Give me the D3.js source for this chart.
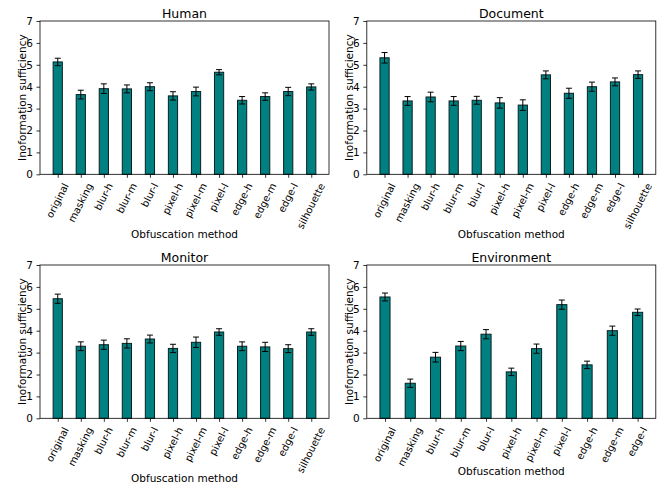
<!DOCTYPE html>
<html>
<head>
<meta charset="utf-8">
<script src="https://cdn.jsdelivr.net/npm/d3@7"></script>
<style>
  body { margin: 0; background: #fff; }
  text { font-family: "DejaVu Sans", sans-serif; fill: #000; }
</style>
</head>
<body>
<svg id="chart" width="668" height="485"></svg>
<script>
// categories
const methods12 = ["original", "masking", "blur-h", "blur-m", "blur-l", "pixel-h",
  "pixel-m", "pixel-l", "edge-h", "edge-m", "edge-l", "silhouette"];
const methods11 = methods12.slice(0, 11);

// mean scores and error half-widths
const humanMean = [5.13, 3.64, 3.91, 3.90, 4.00, 3.58, 3.78, 4.66, 3.38, 3.55, 3.78, 3.99];
const humanErr  = [0.17, 0.20, 0.22, 0.18, 0.18, 0.19, 0.20, 0.12, 0.17, 0.17, 0.19, 0.14];

const documentMean = [5.32, 3.35, 3.53, 3.35, 3.38, 3.26, 3.16, 4.54, 3.70, 4.00, 4.22, 4.55];
const documentErr  = [0.24, 0.20, 0.22, 0.20, 0.18, 0.24, 0.24, 0.18, 0.23, 0.21, 0.18, 0.17];

const monitorMean = [5.46, 3.29, 3.36, 3.42, 3.62, 3.19, 3.47, 3.94, 3.29, 3.26, 3.18, 3.94];
const monitorErr  = [0.21, 0.20, 0.21, 0.21, 0.18, 0.19, 0.24, 0.15, 0.20, 0.21, 0.18, 0.15];

const environmentMean = [5.54, 1.60, 2.79, 3.30, 3.84, 2.12, 3.18, 5.19, 2.44, 4.00, 4.84];
const environmentErr  = [0.18, 0.19, 0.22, 0.21, 0.21, 0.17, 0.21, 0.21, 0.17, 0.21, 0.15];

const yTicks = [0, 1, 2, 3, 4, 5, 6, 7];

const svg = d3.select("#chart");

// axes boxes in pixels (left, right, top, bottom)
const panels = [
  { title: "Human", cats: methods12, mean: humanMean, err: humanErr, box: [40, 329, 21, 174.3] },
  { title: "Document", cats: methods12, mean: documentMean, err: documentErr, box: [366.8, 655.8, 21, 174.3] },
  { title: "Monitor", cats: methods12, mean: monitorMean, err: monitorErr, box: [40, 329, 265, 418.3] },
  { title: "Environment", cats: methods11, mean: environmentMean, err: environmentErr, box: [366.8, 655.8, 265, 418.3] }
];

const barColor = "#008080";
const barWidth = 0.4;
const rot = 63;

panels.forEach(p => drawPanel(p));

function drawPanel(p) {
  const [l, r, t, b] = p.box;
  const n = p.cats.length;
  // matplotlib style x-limits: bar extent plus 5% margin
  const lo = -barWidth / 2, hi = n - 1 + barWidth / 2;
  const m = 0.05 * (hi - lo);
  const x = d3.scaleLinear().domain([lo - m, hi + m]).range([l, r]);
  const y = d3.scaleLinear().domain([0, 7]).range([b, t]);

  const g = svg.append("g");

  // bars
  g.selectAll("rect.bar")
    .data(p.mean)
    .enter()
    .append("rect")
    .attr("class", "bar")
    .attr("x", (d, i) => x(i - barWidth / 2))
    .attr("width", x(barWidth) - x(0))
    .attr("y", d => y(d))
    .attr("height", d => y(0) - y(d))
    .attr("fill", barColor)
    .attr("stroke", "#0a2020")
    .attr("stroke-width", 1);

  // error bars
  const cap = 3;
  const eb = g.selectAll("g.err")
    .data(p.mean)
    .enter()
    .append("g")
    .attr("class", "err")
    .attr("stroke", "#000")
    .attr("stroke-width", 1);
  eb.append("line")
    .attr("x1", (d, i) => x(i)).attr("x2", (d, i) => x(i))
    .attr("y1", (d, i) => y(d - p.err[i])).attr("y2", (d, i) => y(d + p.err[i]));
  eb.append("line")
    .attr("x1", (d, i) => x(i) - cap).attr("x2", (d, i) => x(i) + cap)
    .attr("y1", (d, i) => y(d - p.err[i])).attr("y2", (d, i) => y(d - p.err[i]));
  eb.append("line")
    .attr("x1", (d, i) => x(i) - cap).attr("x2", (d, i) => x(i) + cap)
    .attr("y1", (d, i) => y(d + p.err[i])).attr("y2", (d, i) => y(d + p.err[i]));

  // y axis
  const yAxis = g.append("g")
    .attr("transform", `translate(${l},0)`)
    .call(d3.axisLeft(y).tickValues(yTicks).tickFormat(d3.format("d")).tickSize(3.5).tickPadding(3.5));
  yAxis.select(".domain").remove();
  yAxis.selectAll("text").attr("font-size", 10.5).attr("font-family", "DejaVu Sans");
  yAxis.selectAll("line").attr("stroke-width", 0.8);

  // x axis ticks, labels placed by hand for matplotlib-like rotation
  const xAxis = g.append("g")
    .attr("transform", `translate(0,${b})`)
    .call(d3.axisBottom(x).tickValues(d3.range(n)).tickFormat(() => "").tickSize(3.5));
  xAxis.select(".domain").remove();
  xAxis.selectAll("line").attr("stroke-width", 0.8);

  const fs = 10;
  const top = b + 7;
  const rad = rot * Math.PI / 180;
  let bottom = top;
  g.append("g").selectAll("text")
    .data(p.cats)
    .enter()
    .append("text")
    .attr("font-size", fs)
    .attr("text-anchor", "middle")
    .attr("dy", "0.32em")
    .text(d => d)
    .each(function(d, i) {
      const w = this.getComputedTextLength();
      const h = fs * 1.164;
      const H = w * Math.sin(rad) + h * Math.cos(rad);
      bottom = Math.max(bottom, top + H);
      d3.select(this).attr("transform", `translate(${x(i)},${top + H / 2}) rotate(${-rot})`);
    });

  // spines
  g.append("rect")
    .attr("x", l).attr("y", t)
    .attr("width", r - l).attr("height", b - t)
    .attr("fill", "none")
    .attr("stroke", "#000")
    .attr("stroke-width", 0.8);

  // title
  g.append("text")
    .attr("x", (l + r) / 2).attr("y", t - 3.5)
    .attr("text-anchor", "middle")
    .attr("font-size", 12.5)
    .text(p.title);

  // axis labels
  g.append("text")
    .attr("x", (l + r) / 2).attr("y", bottom + 7)
    .attr("text-anchor", "middle")
    .attr("font-size", 10.5)
    .text("Obfuscation method");

  g.append("text")
    .attr("transform", `translate(${l - 14},${(t + b) / 2}) rotate(-90)`)
    .attr("text-anchor", "middle")
    .attr("font-size", 10.5)
    .text("Inoformation sufficiency");
}
</script>
</body>
</html>
